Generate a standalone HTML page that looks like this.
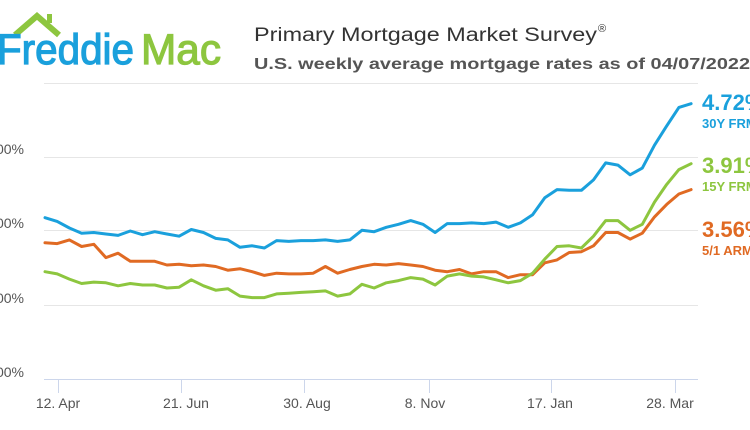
<!DOCTYPE html>
<html><head><meta charset="utf-8"><style>
html,body{margin:0;padding:0;background:#fff;width:750px;height:430px;overflow:hidden}
svg{display:block}
text{font-family:"Liberation Sans","DejaVu Sans",sans-serif}
</style></head><body>
<svg id="c" width="750" height="430" viewBox="0 0 750 430" xmlns="http://www.w3.org/2000/svg">
<polyline points="15,35 37,16 59,35" fill="none" stroke="#8dc63f" stroke-width="6" stroke-linejoin="miter"/>
<rect x="47" y="14" width="5" height="9" fill="#8dc63f"/>
<text x="-3" y="64" font-size="43" fill="#1aa0dc" stroke="#1aa0dc" stroke-width="1.2" textLength="137" lengthAdjust="spacingAndGlyphs">Freddie</text>
<text x="141" y="64" font-size="43" fill="#8dc63f" stroke="#8dc63f" stroke-width="1.2" textLength="80" lengthAdjust="spacingAndGlyphs">Mac</text>
<text x="254" y="41" font-size="19" fill="#333" textLength="343" lengthAdjust="spacingAndGlyphs">Primary Mortgage Market Survey</text>
<text x="598" y="32" font-size="11" fill="#333">®</text>
<text x="254" y="69" font-size="16" font-weight="bold" fill="#555" textLength="496" lengthAdjust="spacingAndGlyphs">U.S. weekly average mortgage rates as of 04/07/2022</text>
<g stroke="#e6e6e6" stroke-width="1">
<line x1="44" y1="83.5" x2="698" y2="83.5"/>
<line x1="44" y1="157.5" x2="698" y2="157.5"/>
<line x1="44" y1="230.5" x2="698" y2="230.5"/>
<line x1="44" y1="305.5" x2="698" y2="305.5"/>
</g>
<line x1="44" y1="379.5" x2="698" y2="379.5" stroke="#ccd6eb" stroke-width="1"/>
<g stroke="#ccd6eb" stroke-width="1">
<line x1="58.5" y1="380" x2="58.5" y2="393"/>
<line x1="181.5" y1="380" x2="181.5" y2="393"/>
<line x1="304.5" y1="380" x2="304.5" y2="393"/>
<line x1="429.5" y1="380" x2="429.5" y2="393"/>
<line x1="551.5" y1="380" x2="551.5" y2="393"/>
<line x1="675.5" y1="380" x2="675.5" y2="393"/>
</g>
<g font-size="14" fill="#555" text-anchor="middle">
<text x="58" y="408">12. Apr</text>
<text x="186" y="408">21. Jun</text>
<text x="307" y="408">30. Aug</text>
<text x="425" y="408">8. Nov</text>
<text x="550" y="408">17. Jan</text>
<text x="670" y="408">28. Mar</text>
</g>
<g font-size="14" fill="#555" text-anchor="end">
<text x="24" y="154">4.00%</text>
<text x="24" y="228">3.00%</text>
<text x="24" y="303">2.00%</text>
<text x="24" y="377">1.00%</text>
</g>
<g id="lines"></g>
<text x="702" y="110" font-size="22" font-weight="bold" fill="#1aa0dc">4.72%</text>
<text x="702" y="128" font-size="13" font-weight="bold" fill="#1aa0dc">30Y FRM</text>
<text x="702" y="173" font-size="22" font-weight="bold" fill="#8dc63f">3.91%</text>
<text x="702" y="191" font-size="13" font-weight="bold" fill="#8dc63f">15Y FRM</text>
<text x="702" y="237" font-size="22" font-weight="bold" fill="#e06a23">3.56%</text>
<text x="702" y="255" font-size="13" font-weight="bold" fill="#e06a23">5/1 ARM</text>
</svg>
<script>
var a=[3.18,3.13,3.04,2.97,2.98,2.96,2.94,3.00,2.95,2.99,2.96,2.93,3.02,2.98,2.90,2.88,2.78,2.80,2.77,2.87,2.86,2.87,2.87,2.88,2.86,2.88,3.01,2.99,3.05,3.09,3.14,3.09,2.98,3.10,3.10,3.11,3.10,3.12,3.05,3.11,3.22,3.45,3.56,3.55,3.55,3.69,3.92,3.89,3.76,3.85,4.16,4.42,4.67,4.72];
var b=[2.45,2.42,2.35,2.29,2.31,2.30,2.26,2.29,2.27,2.27,2.23,2.24,2.34,2.26,2.20,2.22,2.12,2.10,2.10,2.15,2.16,2.17,2.18,2.19,2.12,2.15,2.28,2.23,2.30,2.33,2.37,2.35,2.27,2.39,2.42,2.39,2.38,2.34,2.30,2.33,2.43,2.62,2.79,2.80,2.77,2.93,3.14,3.14,3.01,3.09,3.39,3.63,3.83,3.91];
var c=[2.84,2.83,2.88,2.79,2.82,2.64,2.70,2.59,2.59,2.59,2.54,2.55,2.53,2.54,2.52,2.47,2.49,2.45,2.40,2.43,2.42,2.42,2.43,2.52,2.43,2.48,2.52,2.55,2.54,2.56,2.54,2.52,2.47,2.45,2.48,2.42,2.45,2.45,2.37,2.41,2.41,2.57,2.61,2.71,2.72,2.80,2.98,2.98,2.89,2.97,3.19,3.36,3.50,3.56];
function pts(d){return d.map(function(v,i){return (45+i*12.19).toFixed(1)+","+(379-(v-1)*74).toFixed(1)}).join(" ");}
var g=document.getElementById("lines"),h="";
[[c,"#e06a23"],[b,"#8dc63f"],[a,"#1aa0dc"]].forEach(function(s){h+='<polyline fill="none" stroke-width="3" stroke-linejoin="round" stroke-linecap="round" stroke="'+s[1]+'" points="'+pts(s[0])+'"/>';});
g.innerHTML=h;
</script>
</body></html>
